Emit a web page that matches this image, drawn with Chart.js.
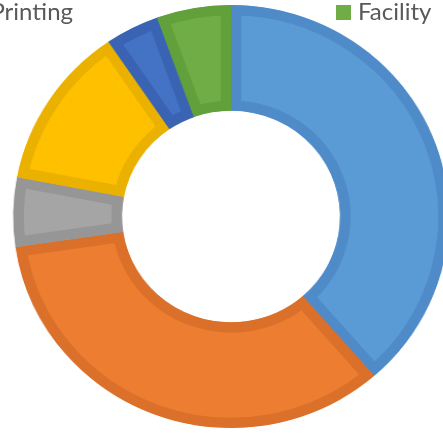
<!DOCTYPE html>
<html>
<head>
<meta charset="utf-8">
<script src="https://cdn.jsdelivr.net/npm/chart.js@4/dist/chart.umd.min.js"></script>
<style>
  html, body { margin: 0; padding: 0; background: #ffffff; overflow: hidden; }
  #wrap { position: relative; width: 443px; height: 433px; overflow: hidden; }
  #chart { position: absolute; left: 0; top: 0; transform: scaleX(1.03); transform-origin: 231px 50%; }
  .leg { position: absolute; font-family: Lato, "Open Sans", sans-serif; font-size: 24px; line-height: 24px;
         color: #595959; white-space: nowrap; }
  .box { position: absolute; width: 15px; height: 15px; }
</style>
</head>
<body>
<div id="wrap">
  <canvas id="chart" width="443" height="433"></canvas>
  <div class="leg" id="legPrinting" style="right:370px; top:-1px;"></div>
  <div class="box" id="boxFacility" style="left:336px; top:5px;"></div>
  <div class="leg" id="legFacility" style="left:358px; top:-1px;"></div>
</div>
<script>
// Categories (first four names are not visible in the cropped reference)
const categories = ["Category 1", "Category 2", "Category 3", "Category 4", "Printing", "Facility"];
// Share of total (%)
const shares = [38.6, 34.1, 5.3, 12.5, 4.0, 5.5];
// Slice colours
const fillColors   = ["#5B9BD5", "#ED7D31", "#A5A5A5", "#FFC000", "#4472C4", "#70AD47"];
const borderColors = ["#4E8BC8", "#DA7029", "#969696", "#EBB100", "#3A63B3", "#62A03B"];

document.getElementById('legPrinting').textContent = categories[4];
document.getElementById('legFacility').textContent = categories[5];
document.getElementById('boxFacility').style.background = fillColors[5];

new Chart(document.getElementById('chart'), {
  type: 'doughnut',
  data: {
    labels: categories,
    datasets: [{
      data: shares,
      backgroundColor: fillColors,
      borderColor: borderColors,
      borderWidth: 10,
      borderAlign: 'inner',
      hoverOffset: 0
    }]
  },
  options: {
    responsive: false,
    animation: false,
    radius: 211.5,
    cutout: '50%',
    layout: { padding: { left: 19, right: 0, top: 0, bottom: 0 } },
    plugins: {
      legend: { display: false },
      tooltip: { enabled: false }
    }
  }
});
</script>
</body>
</html>
